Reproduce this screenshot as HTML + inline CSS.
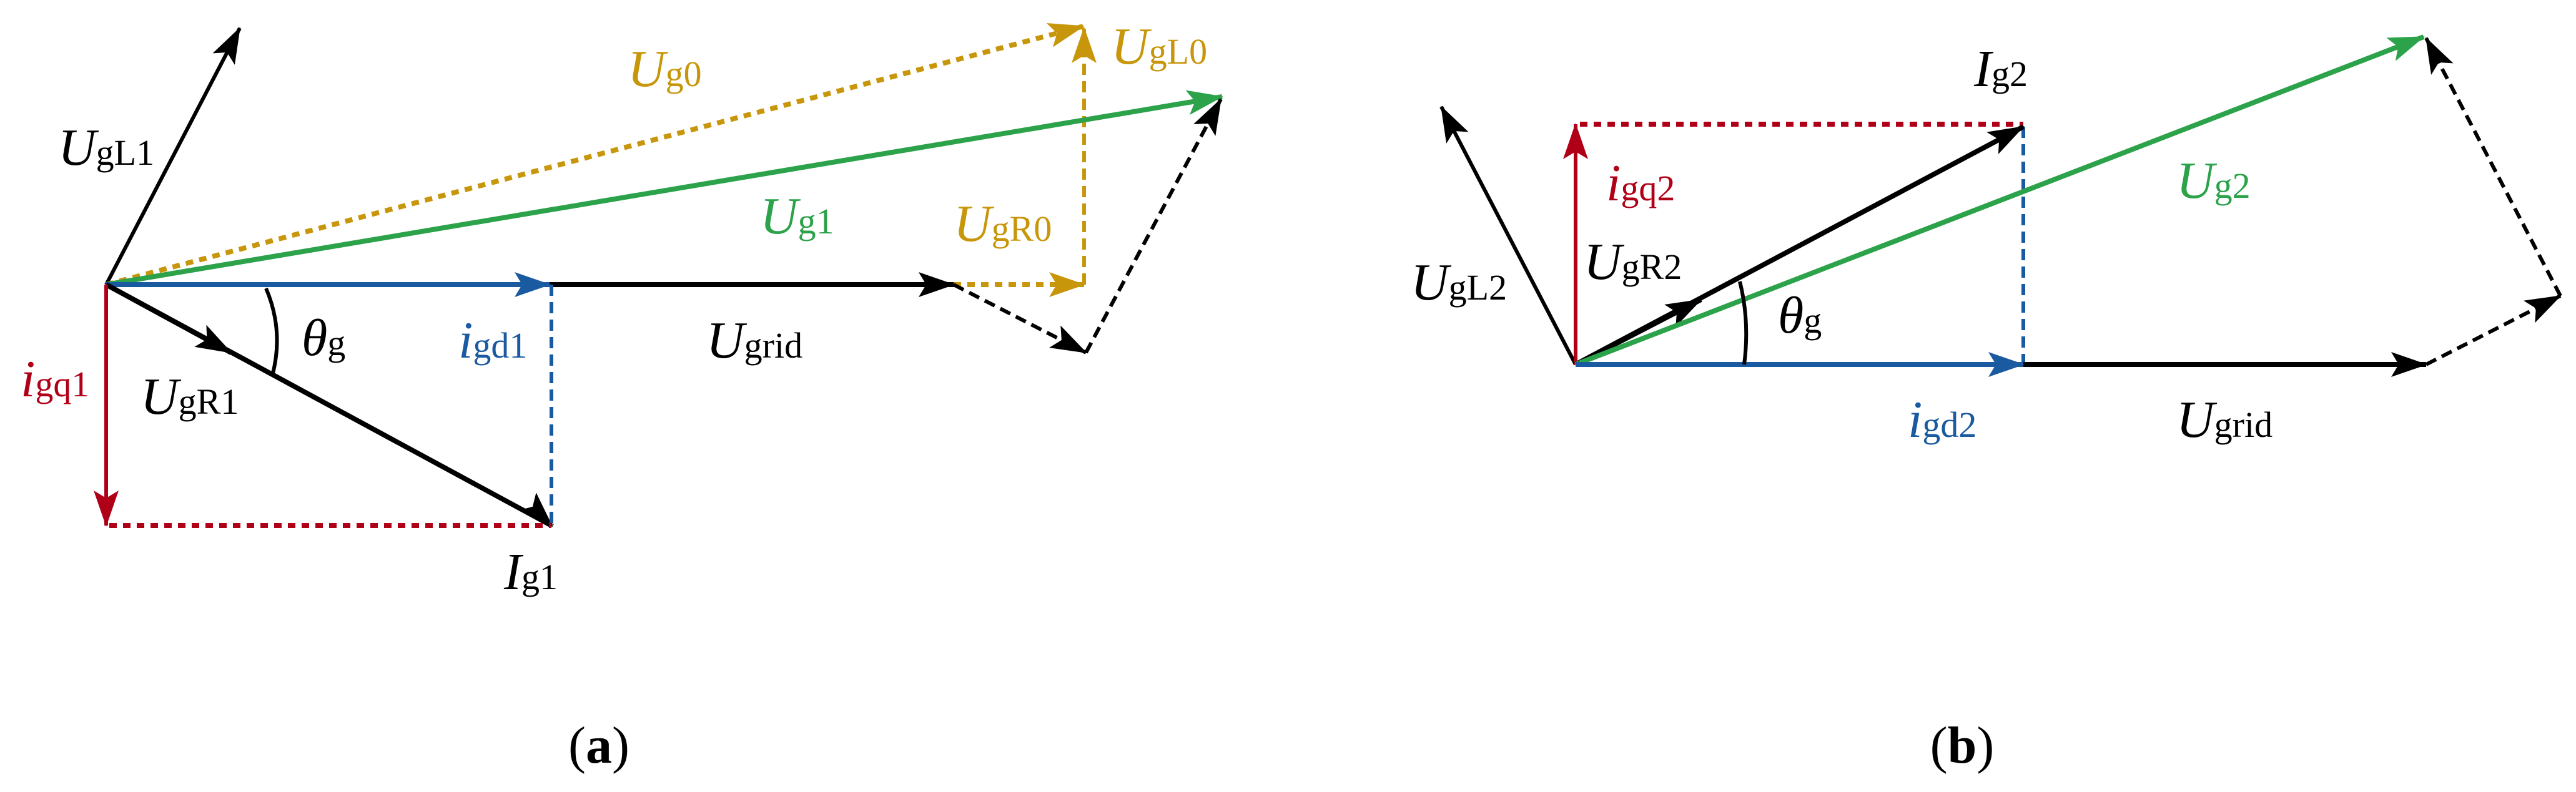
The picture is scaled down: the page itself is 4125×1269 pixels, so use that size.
<!DOCTYPE html>
<html><head><meta charset="utf-8"><style>
html,body{margin:0;padding:0;background:#fff}
svg{display:block}
text{font-family:"Liberation Serif",serif;font-size:84px}
.s{font-style:normal;font-size:58px}
</style></head><body>
<svg width="4125" height="1269" viewBox="0 0 4125 1269" xmlns="http://www.w3.org/2000/svg">
<defs>
<marker id="ak" markerUnits="userSpaceOnUse" markerWidth="60" markerHeight="40" refX="56" refY="20" orient="auto"><path d="M0,0 L58,20 L0,40 L12,20 Z" fill="#000"/></marker>
<marker id="ag" markerUnits="userSpaceOnUse" markerWidth="60" markerHeight="40" refX="56" refY="20" orient="auto"><path d="M0,0 L58,20 L0,40 L12,20 Z" fill="#2ca24a"/></marker>
<marker id="ab" markerUnits="userSpaceOnUse" markerWidth="60" markerHeight="40" refX="56" refY="20" orient="auto"><path d="M0,0 L58,20 L0,40 L12,20 Z" fill="#1a5aa0"/></marker>
<marker id="ar" markerUnits="userSpaceOnUse" markerWidth="60" markerHeight="40" refX="56" refY="20" orient="auto"><path d="M0,0 L58,20 L0,40 L12,20 Z" fill="#b00018"/></marker>
<marker id="ay" markerUnits="userSpaceOnUse" markerWidth="60" markerHeight="40" refX="56" refY="20" orient="auto"><path d="M0,0 L58,20 L0,40 L12,20 Z" fill="#c8960a"/></marker>
</defs>
<g fill="none" stroke-width="8">
<!-- panel a -->
<line x1="170" y1="456" x2="384" y2="45" stroke="#000" stroke-width="6" marker-end="url(#ak)"/>
<line x1="170" y1="456" x2="1735" y2="42" stroke="#c8960a" stroke-dasharray="12 10" marker-end="url(#ay)"/>
<line x1="1736" y1="456" x2="1736" y2="45" stroke="#c8960a" stroke-width="6" stroke-dasharray="18 10" marker-end="url(#ay)"/>
<line x1="1527" y1="456" x2="1736" y2="456" stroke="#c8960a" stroke-dasharray="12 10" marker-end="url(#ay)"/>
<line x1="170" y1="456" x2="1957" y2="155" stroke="#2ca24a" marker-end="url(#ag)"/>
<line x1="880" y1="456" x2="1527" y2="456" stroke="#000" marker-end="url(#ak)"/>
<line x1="170" y1="456" x2="880" y2="456" stroke="#1a5aa0" marker-end="url(#ab)"/>
<line x1="1527" y1="456" x2="1739" y2="565" stroke="#000" stroke-width="6" stroke-dasharray="18 10" marker-end="url(#ak)"/>
<line x1="1739" y1="565" x2="1955" y2="159" stroke="#000" stroke-width="6" stroke-dasharray="18 10" marker-end="url(#ak)"/>
<line x1="170" y1="456" x2="370" y2="565" stroke="#000" marker-end="url(#ak)"/>
<line x1="170" y1="456" x2="883" y2="842" stroke="#000"/>
<line x1="883" y1="842" x2="884" y2="843" stroke="#000" marker-end="url(#ak)"/>
<line x1="883" y1="456" x2="883" y2="842" stroke="#1a5aa0" stroke-width="6" stroke-dasharray="18 10"/>
<line x1="175" y1="842" x2="883" y2="842" stroke="#b00018" stroke-dasharray="12 10"/>
<line x1="170" y1="456" x2="170" y2="842" stroke="#b00018" stroke-width="6" marker-end="url(#ar)"/>
<path d="M426,462 Q455,530 436,602" stroke="#000" stroke-width="6"/>
<!-- panel b -->
<line x1="2523" y1="584" x2="2308" y2="171" stroke="#000" stroke-width="6" marker-end="url(#ak)"/>
<line x1="2523" y1="584" x2="2523" y2="199" stroke="#b00018" stroke-width="6" marker-end="url(#ar)"/>
<line x1="2530" y1="199" x2="3240" y2="199" stroke="#b00018" stroke-dasharray="12 10"/>
<line x1="3240" y1="203" x2="3240" y2="584" stroke="#1a5aa0" stroke-width="6" stroke-dasharray="18 10"/>
<line x1="2523" y1="584" x2="2724" y2="480" stroke="#000" marker-end="url(#ak)"/>
<line x1="2523" y1="584" x2="3240" y2="203" stroke="#000" marker-end="url(#ak)"/>
<line x1="2523" y1="584" x2="3881" y2="59" stroke="#2ca24a" marker-end="url(#ag)"/>
<line x1="3240" y1="584" x2="3885" y2="584" stroke="#000" marker-end="url(#ak)"/>
<line x1="2523" y1="584" x2="3240" y2="584" stroke="#1a5aa0" marker-end="url(#ab)"/>
<line x1="3885" y1="584" x2="4100" y2="474" stroke="#000" stroke-width="6" stroke-dasharray="18 10" marker-end="url(#ak)"/>
<line x1="4100" y1="474" x2="3885" y2="61" stroke="#000" stroke-width="6" stroke-dasharray="18 10" marker-end="url(#ak)"/>
<path d="M2786,451 Q2802,515 2793,584" stroke="#000" stroke-width="6"/>
</g>
<g font-style="italic">
<text x="1005" y="138" fill="#c8960a">U<tspan class="s">g0</tspan></text>
<text x="1779" y="102" fill="#c8960a">U<tspan class="s">gL0</tspan></text>
<text x="93" y="264" fill="#000">U<tspan class="s">gL1</tspan></text>
<text x="1217" y="374" fill="#2ca24a">U<tspan class="s">g1</tspan></text>
<text x="1527" y="386" fill="#c8960a">U<tspan class="s">gR0</tspan></text>
<text x="483" y="569" fill="#000">θ<tspan class="s" font-style="italic">g</tspan></text>
<text x="734" y="573" fill="#1a5aa0">i<tspan class="s">gd1</tspan></text>
<text x="1131" y="573" fill="#000">U<tspan class="s">grid</tspan></text>
<text x="33" y="635" fill="#b00018">i<tspan class="s">gq1</tspan></text>
<text x="225" y="663" fill="#000">U<tspan class="s">gR1</tspan></text>
<text x="807" y="944" fill="#000">I<tspan class="s">g1</tspan></text>
<text x="3161" y="138" fill="#000">I<tspan class="s">g2</tspan></text>
<text x="2572" y="321" fill="#b00018">i<tspan class="s">gq2</tspan></text>
<text x="2536" y="447" fill="#000">U<tspan class="s">gR2</tspan></text>
<text x="2259" y="480" fill="#000">U<tspan class="s">gL2</tspan></text>
<text x="2847" y="533" fill="#000">θ<tspan class="s" font-style="italic">g</tspan></text>
<text x="3485" y="317" fill="#2ca24a">U<tspan class="s">g2</tspan></text>
<text x="3055" y="700" fill="#1a5aa0">i<tspan class="s">gd2</tspan></text>
<text x="3485" y="700" fill="#000">U<tspan class="s">grid</tspan></text>
</g>
<text x="959" y="1222" text-anchor="middle" font-size="64">(<tspan font-weight="bold">a</tspan>)</text>
<text x="3142" y="1222" text-anchor="middle" font-size="64">(<tspan font-weight="bold">b</tspan>)</text>
</svg>
</body></html>
